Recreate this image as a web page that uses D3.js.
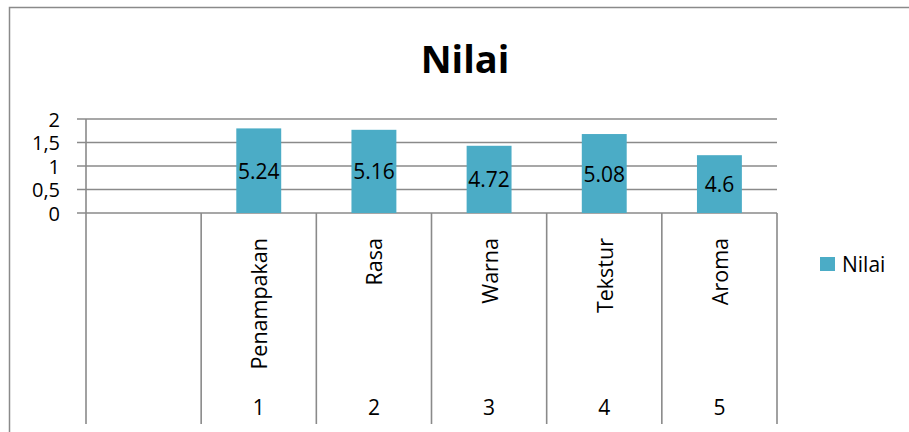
<!DOCTYPE html>
<html>
<head>
<meta charset="utf-8">
<script src="https://cdn.jsdelivr.net/npm/d3@7"></script>
<style>
  body { margin: 0; background: #fff; }
  svg { display: block; font-family: "Open Sans", sans-serif; }
</style>
</head>
<body>
<svg id="chart" width="909" height="432"></svg>
<script>
// data
const categories = ["", "Penampakan", "Rasa", "Warna", "Tekstur", "Aroma"];
const indexLabels = ["", "1", "2", "3", "4", "5"];
const barHeights = [null, 1.80, 1.77, 1.43, 1.68, 1.23];
const barLabels = ["", "5.24", "5.16", "4.72", "5.08", "4.6"];
const yTicks = [0, 0.5, 1, 1.5, 2];
const yTickLabels = ["0", "0,5", "1", "1,5", "2"];
const seriesName = "Nilai";

const BAR = "#4bacc6";
const LINE = "#8a8a8a";

const svg = d3.select("#chart");

// outer frame
svg.append("rect")
  .attr("x", 9.5).attr("y", 7.5)
  .attr("width", 920).attr("height", 440)
  .attr("fill", "none").attr("stroke", LINE).attr("stroke-width", 1.5);

// title
svg.append("text")
  .attr("x", 465).attr("y", 73)
  .attr("text-anchor", "middle")
  .attr("font-weight", "bold")
  .attr("font-size", 38)
  .text("Nilai");

const x = d3.scaleBand().domain(d3.range(categories.length)).range([86, 777]).padding(0);
const y = d3.scaleLinear().domain([0, 2]).range([213, 119]);

const bottom = 424;

// gridlines + tick marks
svg.append("g").selectAll("line")
  .data(yTicks)
  .join("line")
  .attr("x1", 77).attr("x2", 777)
  .attr("y1", d => y(d)).attr("y2", d => y(d))
  .attr("stroke", LINE).attr("stroke-width", 1.6);

// y tick labels
svg.append("g").selectAll("text")
  .data(yTicks)
  .join("text")
  .attr("x", 60)
  .attr("y", d => y(d))
  .attr("text-anchor", "end")
  .attr("dominant-baseline", "central")
  .attr("font-size", 20)
  .text((d, i) => yTickLabels[i]);

// bars
const bw = x.bandwidth() * 0.39;
const bars = categories.map((c, i) => ({ i, v: barHeights[i], label: barLabels[i] })).filter(d => d.v != null);

svg.append("g").selectAll("rect")
  .data(bars)
  .join("rect")
  .attr("x", d => x(d.i) + x.bandwidth() / 2 - bw / 2)
  .attr("y", d => y(d.v))
  .attr("width", bw)
  .attr("height", d => y(0) - y(d.v))
  .attr("fill", BAR);

// data labels, centred in the bar
svg.append("g").selectAll("text")
  .data(bars)
  .join("text")
  .attr("x", d => x(d.i) + x.bandwidth() / 2)
  .attr("y", d => (y(d.v) + y(0)) / 2)
  .attr("text-anchor", "middle")
  .attr("dominant-baseline", "central")
  .attr("font-size", 21)
  .text(d => d.label);

// category separators and axis line
const edges = d3.range(categories.length + 1).map(i => i < categories.length ? x(i) : x.range()[1]);
svg.append("g").selectAll("line")
  .data(edges)
  .join("line")
  .attr("x1", d => d).attr("x2", d => d)
  .attr("y1", (d, i) => i === 0 ? y(2) : y(0))
  .attr("y2", bottom)
  .attr("stroke", LINE).attr("stroke-width", 1.6);

// rotated category names
const catG = svg.append("g");
categories.forEach((c, i) => {
  if (!c) return;
  const cx = x(i) + x.bandwidth() / 2;
  const t = catG.append("text")
    .attr("text-anchor", "end")
    .attr("dominant-baseline", "central")
    .attr("font-size", 21.5)
    .text(c);
  const len = t.node().getComputedTextLength();
  const top = Math.min(238, 371 - len);
  t.attr("transform", `translate(${cx},${top}) rotate(-90)`);
});

// index row
svg.append("g").selectAll("text")
  .data(indexLabels)
  .join("text")
  .attr("x", (d, i) => x(i) + x.bandwidth() / 2)
  .attr("y", 407)
  .attr("text-anchor", "middle")
  .attr("dominant-baseline", "central")
  .attr("font-size", 21)
  .text(d => d);

// legend
svg.append("rect")
  .attr("x", 820).attr("y", 257)
  .attr("width", 15).attr("height", 14)
  .attr("fill", BAR);
svg.append("text")
  .attr("x", 842).attr("y", 264)
  .attr("dominant-baseline", "central")
  .attr("font-size", 21)
  .text(seriesName);
</script>
</body>
</html>
